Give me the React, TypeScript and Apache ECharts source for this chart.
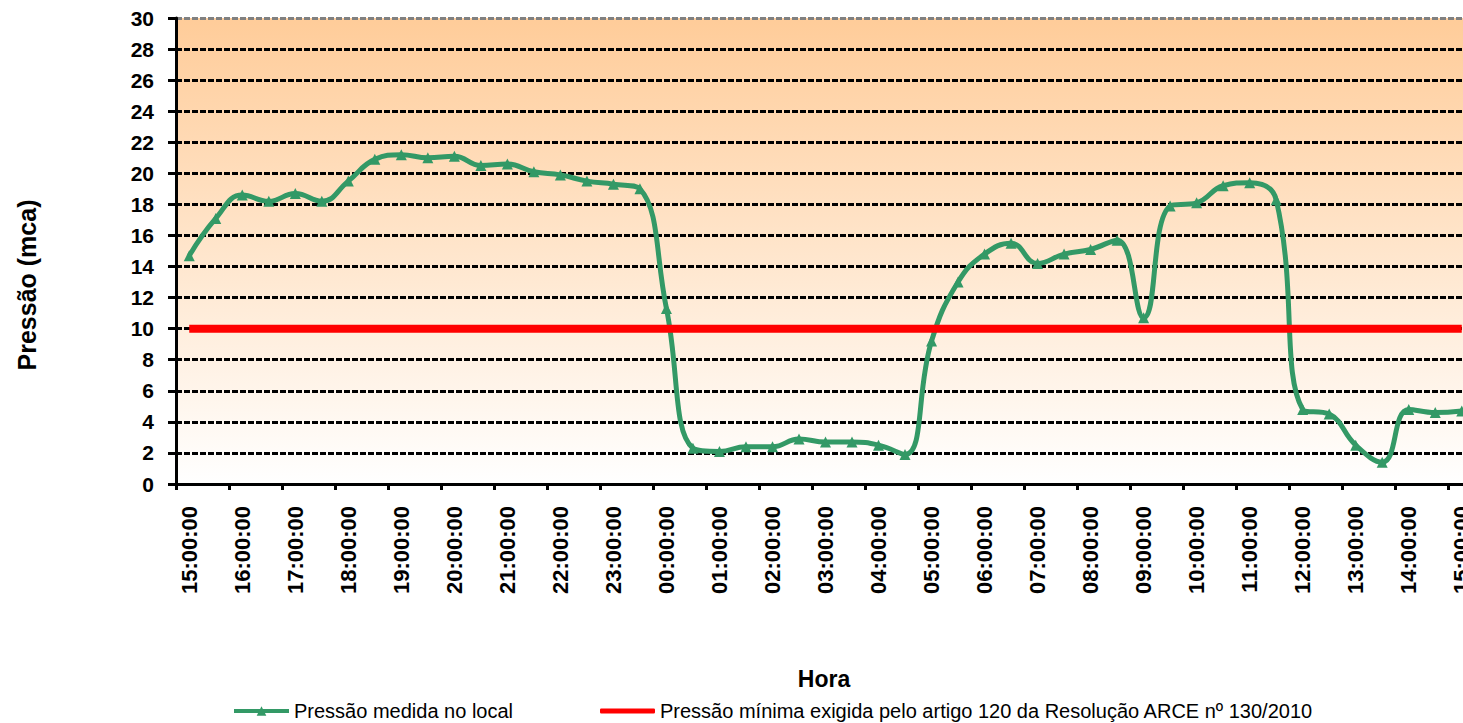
import React, { useEffect, useRef } from "react";
import * as echarts from "echarts";

const horas = [
  "15:00:00", "15:30:00", "16:00:00", "16:30:00", "17:00:00", "17:30:00",
  "18:00:00", "18:30:00", "19:00:00", "19:30:00", "20:00:00", "20:30:00",
  "21:00:00", "21:30:00", "22:00:00", "22:30:00", "23:00:00", "23:30:00",
  "00:00:00", "00:30:00", "01:00:00", "01:30:00", "02:00:00", "02:30:00",
  "03:00:00", "03:30:00", "04:00:00", "04:30:00", "05:00:00", "05:30:00",
  "06:00:00", "06:30:00", "07:00:00", "07:30:00", "08:00:00", "08:30:00",
  "09:00:00", "09:30:00", "10:00:00", "10:30:00", "11:00:00", "11:30:00",
  "12:00:00", "12:30:00", "13:00:00", "13:30:00", "14:00:00", "14:30:00",
  "15:00:00",
];

const pressaoMedida = [
  14.7, 17.1, 18.6, 18.2, 18.7, 18.2, 19.5, 20.9, 21.2, 21.0, 21.1, 20.5,
  20.6, 20.1, 19.9, 19.5, 19.3, 19.0, 11.3, 2.3, 2.1, 2.4, 2.4, 2.9,
  2.7, 2.7, 2.5, 1.9, 9.2, 13.0, 14.8, 15.5, 14.2, 14.8, 15.1, 15.7,
  10.7, 17.9, 18.1, 19.2, 19.4, 18.3, 4.8, 4.5, 2.5, 1.4, 4.8, 4.6,
  4.7,
];

const pressaoMinima = [
  10, 10, 10, 10, 10, 10, 10, 10, 10, 10, 10, 10,
  10, 10, 10, 10, 10, 10, 10, 10, 10, 10, 10, 10,
  10, 10, 10, 10, 10, 10, 10, 10, 10, 10, 10, 10,
  10, 10, 10, 10, 10, 10, 10, 10, 10, 10, 10, 10,
  10,
];

const nomeMedida = "Pressão medida no local";
const nomeMinima = "Pressão mínima exigida pelo artigo 120 da Resolução ARCE nº 130/2010";
const tituloY = "Pressão (mca)";
const tituloX = "Hora";

const FONT = "Arial, 'Liberation Sans', Helvetica, sans-serif";
const gridColors = [
  "#000", "#000", "#000", "#000", "#000", "#000", "#000", "#000",
  "#000", "#000", "#000", "#000", "#000", "#000", "#000", "#808080",
];

export default function App() {
  const ref = useRef<HTMLDivElement>(null);

  useEffect(() => {
    if (!ref.current) return;
    const chart = echarts.init(ref.current, undefined, { renderer: "svg" });
    chart.setOption({
      animation: false,
      backgroundColor: "#ffffff",
      textStyle: { fontFamily: FONT },
      grid: {
        left: 176,
        top: 18,
        right: 15,
        bottom: 239,
        show: true,
        borderWidth: 0,
        backgroundColor: {
          type: "linear",
          x: 0, y: 0, x2: 0, y2: 1,
          colorStops: [
            { offset: 0, color: "#FFCC99" },
            { offset: 1, color: "#FFFFFF" },
          ],
        },
      },
      xAxis: {
        type: "category",
        data: horas,
        boundaryGap: true,
        axisLine: { show: true, lineStyle: { color: "#000", width: 3 } },
        axisTick: { show: true, interval: 1, length: 6, lineStyle: { color: "#000", width: 3 } },
        axisLabel: {
          interval: 1,
          rotate: 90,
          margin: 22,
          color: "#000",
          fontSize: 22,
          fontWeight: "bold",
          fontFamily: FONT,
        },
        splitLine: { show: false },
      },
      yAxis: {
        type: "value",
        min: 0,
        max: 30,
        interval: 2,
        axisLine: { show: true, lineStyle: { color: "#000", width: 3 } },
        axisTick: { show: true, length: 8, lineStyle: { color: "#000", width: 3 } },
        axisLabel: {
          margin: 22,
          color: "#000",
          fontSize: 21,
          fontWeight: "bold",
          fontFamily: FONT,
        },
        splitLine: {
          show: true,
          lineStyle: { color: gridColors, width: 3, type: [6, 2] },
        },
      },
      legend: [
        {
          data: [nomeMedida],
          left: 232,
          top: 701,
          padding: 0,
          itemWidth: 55,
          itemHeight: 12,
          lineStyle: { width: 4 },
          textStyle: { fontSize: 20, color: "#000", fontFamily: FONT },
        },
        {
          data: [{ name: nomeMinima, icon: "roundRect" }],
          left: 600,
          top: 701,
          padding: 0,
          itemWidth: 55,
          itemHeight: 5,
          textStyle: { fontSize: 20, color: "#000", fontFamily: FONT },
        },
      ],
      graphic: [
        {
          type: "text",
          x: 27,
          y: 285,
          rotation: Math.PI / 2,
          style: {
            text: tituloY,
            fontSize: 25,
            fontWeight: "bold",
            fontFamily: FONT,
            fill: "#000",
            align: "center",
            verticalAlign: "middle",
          },
        },
        {
          type: "text",
          x: 824,
          y: 679,
          style: {
            text: tituloX,
            fontSize: 23,
            fontWeight: "bold",
            fontFamily: FONT,
            fill: "#000",
            align: "center",
            verticalAlign: "middle",
          },
        },
      ],
      series: [
        {
          name: nomeMedida,
          type: "line",
          data: pressaoMedida,
          smooth: 0.45,
          symbol: "triangle",
          symbolSize: 11,
          lineStyle: { color: "#339966", width: 5 },
          itemStyle: { color: "#339966" },
          z: 3,
        },
        {
          name: nomeMinima,
          type: "line",
          data: pressaoMinima,
          symbol: "none",
          lineStyle: { color: "#FF0000", width: 8 },
          itemStyle: { color: "#FF0000" },
          z: 4,
        },
      ],
    });
    return () => chart.dispose();
  }, []);

  return (
    <div
      style={{
        position: "fixed",
        left: 0,
        top: 0,
        width: 1463,
        height: 723,
        overflow: "hidden",
        background: "#fff",
      }}
    >
      <div ref={ref} style={{ width: 1490, height: 723 }} />
    </div>
  );
}
